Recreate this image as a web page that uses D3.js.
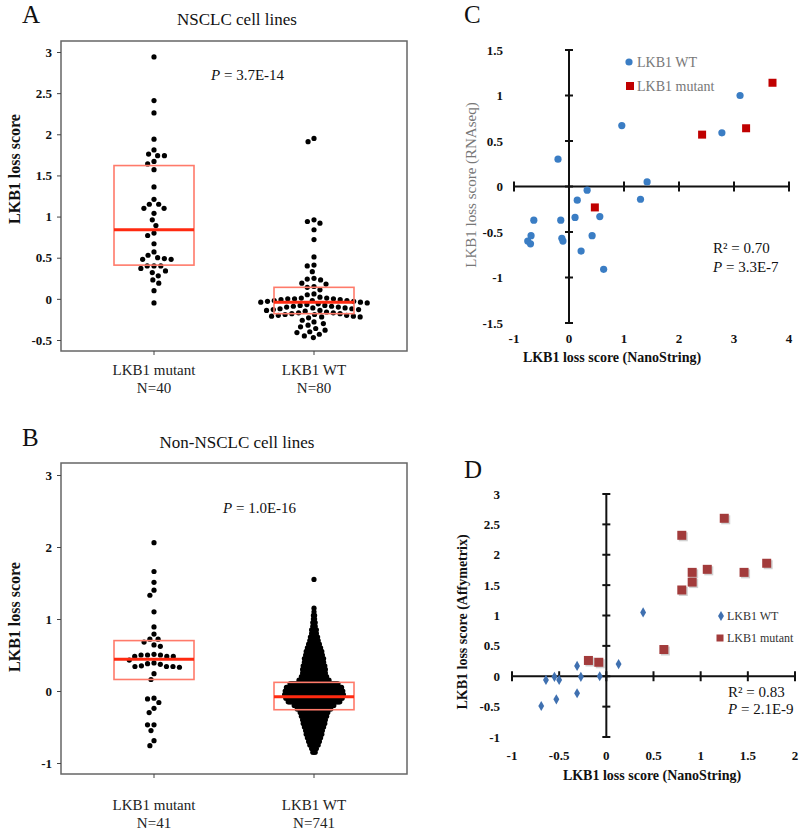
<!DOCTYPE html>
<html><head><meta charset="utf-8">
<script src="https://cdn.jsdelivr.net/npm/d3@7"></script>
<style>body{margin:0;background:#fff}text{font-family:"Liberation Serif","Times New Roman",serif}</style>
</head><body>
<script>
// ---------- DATA ----------
const groups = ["LKB1 mutant", "LKB1 WT"];
const nLabelsA = ["N=40", "N=80"];
const nLabelsB = ["N=41", "N=741"];

const aMutant = [2.94,2.41,2.26,1.94,1.81,1.76,1.74,1.74,1.67,1.64,1.57,1.36,1.21,1.15,1.15,1.10,1.10,1.04,0.96,0.89,
  0.80,0.77,0.67,0.57,0.53,0.50,0.48,0.48,0.49,0.40,0.37,0.40,0.40,0.34,0.32,0.28,0.23,0.19,0.10,-0.05];
const aWT = [1.95,1.91,0.96,0.94,0.92,0.84,0.72,0.51,0.41,0.40,0.33,0.25,0.24,0.23,0.19,0.18,0.15,0.14,0.11,0.06,0.05,
  0.02,0.01,0.01,0.00,0.00,0.00,-0.01,-0.01,-0.02,-0.02,-0.02,-0.03,-0.03,-0.04,-0.04,-0.05,
  -0.06,-0.07,-0.08,-0.08,-0.09,-0.09,-0.10,-0.10,-0.11,-0.11,-0.12,-0.12,-0.13,-0.13,-0.14,-0.14,-0.15,
  -0.16,-0.17,-0.17,-0.18,-0.18,-0.19,-0.19,-0.20,-0.20,-0.21,-0.21,-0.22,-0.22,-0.23,
  -0.26,-0.28,-0.30,-0.32,-0.34,-0.36,-0.38,-0.40,-0.41,-0.43,-0.45,-0.47];
const bMutant = [2.06,1.66,1.51,1.40,1.33,1.10,0.89,0.79,0.72,0.72,0.68,0.64,0.62,0.51,0.50,0.50,0.50,0.48,0.48,0.48,
  0.43,0.39,0.38,0.37,0.35,0.34,0.34,0.33,0.34,0.24,0.16,-0.10,-0.11,-0.16,-0.24,-0.30,-0.47,-0.47,-0.55,-0.69,-0.76];
// Non-NSCLC WT (N=741) read as rows of the dot plot: score value and number of cell lines in the row
const bWTValues = [1.55,1.15,1.10,1.05,1.00,0.95,0.90,0.85,0.80,0.75,0.70,0.65,0.60,0.55,0.50,0.45,0.40,0.35,0.30,0.25,
  0.20,0.15,0.10,0.05,0.00,-0.05,-0.10,-0.15,-0.20,-0.25,-0.30,-0.35,-0.40,-0.45,-0.50,-0.55,-0.60,-0.65,-0.70,-0.75,-0.80,-0.85];
const bWTCounts = [1,1,1,2,2,3,3,5,5,7,8,10,12,14,15,17,17,19,20,20,
  22,26,41,47,49,50,48,44,34,29,24,22,20,19,17,15,14,12,10,8,5,3];

const aBoxQ1 = [0.41, -0.18], aBoxMed = [0.84, -0.04], aBoxQ3 = [1.62, 0.14];
const bBoxQ1 = [0.16, -0.26], bBoxMed = [0.44, -0.08], bBoxQ3 = [0.70, 0.12];

const aYTicks = [-0.5,0,0.5,1,1.5,2,2.5,3];
const bYTicks = [-1,0,1,2,3];

const cWTx = [3.11,0.96,2.78,-0.20,1.42,0.33,0.15,1.30,-0.64,-0.15,0.11,0.56,-0.69,-0.13,-0.11,0.42,-0.75,-0.70,0.22,0.63];
const cWTy = [1.00,0.67,0.59,0.30,0.05,-0.04,-0.15,-0.14,-0.37,-0.37,-0.34,-0.33,-0.54,-0.57,-0.60,-0.54,-0.60,-0.63,-0.71,-0.91];
const cMutx = [3.70,2.42,3.22,0.47];
const cMuty = [1.14,0.57,0.64,-0.23];
const cXTicks = [-1,0,1,2,3,4];
const cYTicks = [-1.5,-1,-0.5,0,0.5,1,1.5];

const dWTx = [0.39,0.13,-0.31,-0.07,-0.27,-0.55,-0.64,-0.50,-0.31,-0.53,-0.69];
const dWTy = [1.05,0.20,0.17,0.00,-0.01,-0.01,-0.06,-0.06,-0.28,-0.38,-0.49];
const dMutx = [1.25,0.80,0.91,1.07,1.46,1.70,0.91,0.80,0.61,-0.19,-0.08];
const dMuty = [2.60,2.32,1.71,1.76,1.71,1.86,1.55,1.42,0.44,0.26,0.23];
const dXTicks = [-1,-0.5,0,0.5,1,1.5,2];
const dYTicks = [-1,-0.5,0,0.5,1,1.5,2,2.5,3];

// ---------- DRAW ----------
const svg = d3.select("body").append("svg").attr("width", 800).attr("height", 832);

function swarm(values, y, d) {
  const pts = values.map(v => ({v, y: y(v), x: 0})).sort((a, b) => a.y - b.y);
  const placed = [];
  for (const p of pts) {
    const near = placed.filter(q => Math.abs(q.y - p.y) < d);
    const cands = [0];
    near.forEach(q => { const dx = Math.sqrt(d * d - (q.y - p.y) ** 2); cands.push(q.x + dx, q.x - dx); });
    cands.sort((a, b) => Math.abs(a) - Math.abs(b) || a - b);
    for (const c of cands) {
      if (near.every(q => (q.x - c) ** 2 + (q.y - p.y) ** 2 >= d * d - 1e-6)) { p.x = c; break; }
    }
    placed.push(p);
  }
  return pts;
}

function italicP(g, x, y, rest, size) {
  const t = g.append("text").attr("x", x).attr("y", y).attr("font-size", size).attr("fill", "#111");
  t.append("tspan").attr("font-style", "italic").text("P");
  t.append("tspan").text(rest);
  return t;
}

function boxPanel(opt) {
  const g = svg.append("g");
  const x = d3.scaleBand().domain(groups).range([74, 394]);
  const y = d3.scaleLinear().domain(opt.yDomain).range(opt.yRange);
  g.append("rect").attr("x", 61).attr("y", opt.top).attr("width", 346).attr("height", opt.bottom - opt.top)
    .attr("fill", "none").attr("stroke", "#666").attr("stroke-width", 1.5);
  const ya = g.append("g").attr("transform", "translate(61,0)")
    .call(d3.axisLeft(y).tickValues(opt.yTicks).tickSize(4).tickPadding(5).tickFormat(d => String(d)));
  ya.select(".domain").remove();
  ya.selectAll("line").attr("stroke", "#444");
  ya.selectAll("text").attr("font-size", 13).attr("font-weight", "bold").attr("fill", "#111")
    .style("font-family", '"Liberation Serif",serif');
  const xa = g.append("g").attr("transform", `translate(0,${opt.bottom})`)
    .call(d3.axisBottom(x).tickSize(4).tickFormat(""));
  xa.select(".domain").remove();
  xa.selectAll("line").attr("stroke", "#444");
  groups.forEach((gr, i) => {
    const cx = x(gr) + x.bandwidth() / 2;
    g.append("text").attr("x", cx).attr("y", opt.labY).attr("text-anchor", "middle").attr("font-size", 15).attr("fill", "#222").text(gr);
    g.append("text").attr("x", cx).attr("y", opt.labY + 18).attr("text-anchor", "middle").attr("font-size", 15).attr("fill", "#222").text(opt.nLabels[i]);
  });
  opt.dots.forEach((pts, i) => {
    const cx = x(groups[i]) + x.bandwidth() / 2;
    g.append("g").selectAll("circle").data(pts).join("circle")
      .attr("cx", d => cx + d.x).attr("cy", d => d.y).attr("r", 2.6).attr("fill", "#000");
  });
  groups.forEach((gr, i) => {
    const cx = x(gr) + x.bandwidth() / 2;
    g.append("rect").attr("x", cx - 40).attr("width", 80)
      .attr("y", y(opt.q3[i])).attr("height", y(opt.q1[i]) - y(opt.q3[i]))
      .attr("fill", "none").attr("stroke", "#ff7a6a").attr("stroke-width", 1.6);
    g.append("line").attr("x1", cx - 40).attr("x2", cx + 40).attr("y1", y(opt.med[i])).attr("y2", y(opt.med[i]))
      .attr("stroke", "#ff2a10").attr("stroke-width", 3);
  });
  g.append("text").attr("x", 22).attr("y", opt.letterY).attr("font-size", 25).attr("fill", "#111").text(opt.letter);
  g.append("text").attr("x", 237).attr("y", opt.titleY).attr("text-anchor", "middle").attr("font-size", 17).attr("fill", "#111").text(opt.title);
  g.append("text").attr("transform", `translate(20,${opt.yTitleY}) rotate(-90)`).attr("text-anchor", "middle")
    .attr("font-size", 16).attr("font-weight", "bold").attr("fill", "#111").text("LKB1 loss score");
  italicP(g, opt.pX, opt.pY, opt.pText, 15);
  return {x, y};
}

// Panel A
{
  const y = d3.scaleLinear().domain([-0.5, 3]).range([340, 52]);
  boxPanel({
    top: 41, bottom: 351, yDomain: [-0.5, 3], yRange: [340, 52], yTicks: aYTicks,
    labY: 375, nLabels: nLabelsA,
    dots: [swarm(aMutant, y, 6.8), swarm(aWT, y, 6.8)],
    q1: aBoxQ1, med: aBoxMed, q3: aBoxQ3,
    letter: "A", letterY: 23, title: "NSCLC cell lines", titleY: 25, yTitleY: 169,
    pX: 211, pY: 80, pText: " = 3.7E-14"
  });
}
// Panel B
{
  const y = d3.scaleLinear().domain([-1, 3]).range([763, 475]);
  const wtPts = [];
  bWTValues.forEach((v, i) => {
    const n = bWTCounts[i];
    for (let k = 0; k < n; k++) wtPts.push({v, y: y(v), x: (k - (n - 1) / 2) * 1.2});
  });
  boxPanel({
    top: 463, bottom: 774, yDomain: [-1, 3], yRange: [763, 475], yTicks: bYTicks,
    labY: 810, nLabels: nLabelsB,
    dots: [swarm(bMutant, y, 6.5), wtPts],
    q1: bBoxQ1, med: bBoxMed, q3: bBoxQ3,
    letter: "B", letterY: 446, title: "Non-NSCLC cell lines", titleY: 448, yTitleY: 617,
    pX: 223, pY: 513, pText: " = 1.0E-16"
  });
}

function crossAxes(g, x, y, xTicks, yTicks, xLabY, yLabX) {
  const x0 = x(0), y0 = y(0);
  const ax = g.append("g").attr("stroke", "#111").attr("stroke-width", 2);
  ax.append("line").attr("x1", x(xTicks[0])).attr("x2", x(xTicks[xTicks.length - 1])).attr("y1", y0).attr("y2", y0);
  ax.append("line").attr("x1", x0).attr("x2", x0).attr("y1", y(yTicks[0])).attr("y2", y(yTicks[yTicks.length - 1]));
  ax.selectAll(".xt").data(xTicks).join("line").attr("x1", d => x(d)).attr("x2", d => x(d)).attr("y1", y0 - 5).attr("y2", y0 + 5);
  ax.selectAll(".yt").data(yTicks).join("line").attr("y1", d => y(d)).attr("y2", d => y(d)).attr("x1", x0 - 4).attr("x2", x0 + 4);
  g.append("g").selectAll("text").data(xTicks).join("text").attr("x", d => x(d)).attr("y", xLabY)
    .attr("text-anchor", "middle").attr("font-size", 13).attr("font-weight", "bold").attr("fill", "#111").text(d => String(d));
  g.append("g").selectAll("text").data(yTicks).join("text").attr("x", yLabX).attr("y", d => y(d) + 4.5)
    .attr("text-anchor", "end").attr("font-size", 13).attr("font-weight", "bold").attr("fill", "#111").text(d => String(d));
}

// Panel C
{
  const g = svg.append("g");
  const x = d3.scaleLinear().domain([-1, 4]).range([514, 789]);
  const y = d3.scaleLinear().domain([-1.5, 1.5]).range([323, 50]);
  crossAxes(g, x, y, cXTicks, cYTicks, 343, 503);
  g.append("text").attr("x", 464).attr("y", 23).attr("font-size", 25).attr("fill", "#111").text("C");
  g.append("text").attr("x", 612).attr("y", 362).attr("text-anchor", "middle").attr("font-size", 14).attr("font-weight", "bold").attr("fill", "#111").text("LKB1 loss score (NanoString)");
  g.append("text").attr("transform", "translate(476,185) rotate(-90)").attr("text-anchor", "middle").attr("font-size", 15).attr("fill", "#777").text("LKB1 loss score (RNAseq)");
  g.append("g").selectAll("circle").data(cWTx).join("circle")
    .attr("cx", d => x(d)).attr("cy", (d, i) => y(cWTy[i])).attr("r", 3.6).attr("fill", "#3a7dc4");
  g.append("g").selectAll("rect").data(cMutx).join("rect")
    .attr("x", d => x(d) - 4).attr("y", (d, i) => y(cMuty[i]) - 4).attr("width", 8).attr("height", 8).attr("fill", "#c00000");
  g.append("circle").attr("cx", 629).attr("cy", 62).attr("r", 3.6).attr("fill", "#3a7dc4");
  g.append("text").attr("x", 637).attr("y", 67).attr("font-size", 14).attr("fill", "#777").text("LKB1 WT");
  g.append("rect").attr("x", 626).attr("y", 82).attr("width", 8).attr("height", 8).attr("fill", "#c00000");
  g.append("text").attr("x", 637).attr("y", 91).attr("font-size", 14).attr("fill", "#777").text("LKB1 mutant");
  g.append("text").attr("x", 713).attr("y", 253).attr("font-size", 15).attr("fill", "#111").text("R² = 0.70");
  italicP(g, 713, 272, " = 3.3E-7", 15);
}

// Panel D
{
  const g = svg.append("g");
  const x = d3.scaleLinear().domain([-1, 2]).range([512, 795]);
  const y = d3.scaleLinear().domain([-1, 3]).range([737, 494]);
  crossAxes(g, x, y, dXTicks, dYTicks, 760, 500);
  g.append("text").attr("x", 464).attr("y", 478).attr("font-size", 25).attr("fill", "#111").text("D");
  g.append("text").attr("x", 652).attr("y", 780).attr("text-anchor", "middle").attr("font-size", 14).attr("font-weight", "bold").attr("fill", "#111").text("LKB1 loss score (NanoString)");
  g.append("text").attr("transform", "translate(467,622) rotate(-90)").attr("text-anchor", "middle").attr("font-size", 14).attr("font-weight", "bold").attr("fill", "#111").text("LKB1 loss score (Affymetrix)");
  const diamond = d3.symbol().type(d3.symbolDiamond).size(30);
  g.append("g").selectAll("path").data(dWTx).join("path")
    .attr("d", diamond).attr("transform", (d, i) => `translate(${x(d)},${y(dWTy[i])})`).attr("fill", "#3f70b0");
  const sq = g.append("g");
  sq.selectAll(".sh").data(dMutx).join("rect")
    .attr("x", d => x(d) - 4.5 + 1.5).attr("y", (d, i) => y(dMuty[i]) - 4.5 + 1.5).attr("width", 9).attr("height", 9)
    .attr("fill", "#999").attr("opacity", 0.45);
  sq.selectAll(".mk").data(dMutx).join("rect")
    .attr("x", d => x(d) - 4.5).attr("y", (d, i) => y(dMuty[i]) - 4.5).attr("width", 9).attr("height", 9)
    .attr("fill", "#a23b3b");
  g.append("path").attr("d", diamond).attr("transform", "translate(721,616)").attr("fill", "#3f70b0");
  g.append("text").attr("x", 727).attr("y", 620).attr("font-size", 12).attr("fill", "#333").text("LKB1 WT");
  g.append("rect").attr("x", 716.5).attr("y", 634.5).attr("width", 7).attr("height", 7).attr("fill", "#a23b3b");
  g.append("text").attr("x", 727).attr("y", 642).attr("font-size", 12).attr("fill", "#333").text("LKB1 mutant");
  g.append("text").attr("x", 728).attr("y", 697).attr("font-size", 15).attr("fill", "#111").text("R² = 0.83");
  italicP(g, 728, 714, " = 2.1E-9", 15);
}
</script></body></html>
